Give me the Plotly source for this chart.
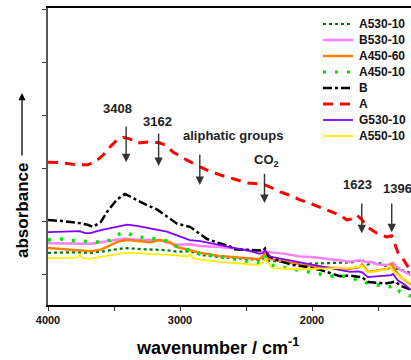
import plotly.graph_objects as go

# ---------------- data ----------------
wn_A530 = [4000, 3800, 3680, 3600, 3500, 3417, 3300, 3100, 3023, 2924, 2848, 2700, 2470, 2394, 2356, 2330, 2200, 2091, 1940, 1790, 1700, 1640, 1621, 1580, 1500, 1450, 1400, 1330, 1250]
A530_10 = [0.40, 0.41, 0.40, 0.42, 0.46, 0.49, 0.47, 0.45, 0.42, 0.43, 0.36, 0.32, 0.28, 0.26, 0.30, 0.25, 0.22, 0.19, 0.20, 0.22, 0.22, 0.25, 0.27, 0.18, 0.22, 0.16, 0.12, 0.08, 0.02]

wn_B530 = [4000, 3760, 3680, 3600, 3500, 3417, 3300, 3160, 3100, 3023, 2925, 2848, 2700, 2470, 2394, 2200, 2091, 2000, 1860, 1712, 1650, 1600, 1545, 1500, 1420, 1386, 1333, 1250]
B530_10 = [0.58, 0.58, 0.57, 0.60, 0.64, 0.67, 0.64, 0.64, 0.60, 0.55, 0.56, 0.53, 0.51, 0.45, 0.44, 0.38, 0.33, 0.32, 0.28, 0.23, 0.26, 0.23, 0.22, 0.18, 0.17, 0.21, 0.08, -0.02]

wn_A450_60 = [4000, 3800, 3680, 3600, 3550, 3460, 3400, 3300, 3227, 3150, 3076, 3023, 2924, 2848, 2700, 2470, 2400, 2371, 2356, 2330, 2280, 2091, 2000, 1860, 1712, 1640, 1621, 1576, 1545, 1480, 1420, 1396, 1370, 1330, 1290, 1250]
A450_60 = [0.49, 0.46, 0.43, 0.46, 0.52, 0.62, 0.64, 0.62, 0.60, 0.64, 0.60, 0.51, 0.45, 0.40, 0.34, 0.30, 0.28, 0.34, 0.42, 0.29, 0.27, 0.18, 0.14, 0.12, 0.10, 0.13, 0.18, 0.04, 0.05, 0.08, 0.10, 0.20, 0.06, -0.05, -0.12, -0.20]

wn_A450_10 = [4000, 3900, 3780, 3680, 3600, 3530, 3477, 3417, 3326, 3240, 3167, 3100, 3061, 2977, 2924, 2850, 2735, 2545, 2409, 2371, 2356, 2318, 2200, 2144, 2030, 1939, 1864, 1790, 1712, 1620, 1576, 1500, 1409, 1371, 1333, 1250]
A450_10 = [0.64, 0.66, 0.62, 0.60, 0.60, 0.64, 0.74, 0.79, 0.70, 0.68, 0.66, 0.62, 0.55, 0.49, 0.45, 0.38, 0.34, 0.26, 0.21, 0.24, 0.34, 0.17, 0.12, 0.08, 0.04, 0.00, -0.05, -0.02, -0.08, -0.12, -0.18, -0.20, -0.24, -0.22, -0.34, -0.42]

wn_B = [4000, 3894, 3760, 3700, 3660, 3600, 3553, 3480, 3417, 3350, 3250, 3175, 3098, 3023, 2925, 2848, 2795, 2700, 2620, 2598, 2470, 2394, 2371, 2356, 2330, 2242, 2144, 2030, 1940, 1864, 1788, 1712, 1674, 1620, 1576, 1523, 1450, 1400, 1370, 1330, 1295, 1250]
B = [1.02, 1.00, 0.96, 0.93, 0.89, 0.98, 1.17, 1.40, 1.51, 1.42, 1.30, 1.22, 1.08, 0.95, 0.89, 0.76, 0.66, 0.58, 0.52, 0.47, 0.45, 0.43, 0.44, 0.48, 0.34, 0.24, 0.17, 0.13, 0.08, 0.02, -0.04, -0.03, -0.04, -0.06, -0.15, -0.16, -0.18, -0.16, -0.14, -0.22, -0.26, -0.30]

wn_A = [4000, 3900, 3780, 3700, 3640, 3580, 3530, 3480, 3432, 3380, 3326, 3242, 3160, 3100, 3053, 2990, 2947, 2848, 2795, 2697, 2600, 2492, 2400, 2356, 2300, 2242, 2160, 2091, 2010, 1939, 1860, 1788, 1735, 1700, 1659, 1620, 1583, 1540, 1508, 1460, 1432, 1396, 1348, 1300, 1280, 1250]
A = [2.11, 2.10, 2.06, 2.06, 2.12, 2.25, 2.40, 2.52, 2.58, 2.55, 2.47, 2.49, 2.48, 2.42, 2.30, 2.22, 2.15, 2.02, 1.96, 1.87, 1.80, 1.72, 1.70, 1.68, 1.62, 1.55, 1.48, 1.40, 1.33, 1.26, 1.18, 1.11, 1.02, 1.04, 1.11, 1.02, 0.89, 0.82, 0.77, 0.72, 0.70, 0.72, 0.40, 0.25, 0.16, 0.06]

wn_G530 = [4000, 3850, 3760, 3720, 3680, 3600, 3530, 3455, 3400, 3326, 3205, 3100, 3023, 2925, 2848, 2700, 2600, 2470, 2394, 2371, 2356, 2318, 2240, 2091, 2000, 1860, 1788, 1712, 1650, 1621, 1576, 1520, 1450, 1400, 1386, 1350, 1300, 1250]
G530_10 = [0.79, 0.80, 0.81, 0.77, 0.77, 0.83, 0.87, 0.91, 0.93, 0.91, 0.85, 0.80, 0.73, 0.64, 0.62, 0.55, 0.49, 0.43, 0.38, 0.40, 0.45, 0.33, 0.29, 0.22, 0.18, 0.12, 0.08, 0.04, 0.05, 0.03, -0.06, -0.05, -0.04, -0.02, 0.00, -0.12, -0.20, -0.30]

wn_A550 = [4000, 3780, 3760, 3740, 3680, 3600, 3500, 3417, 3300, 3100, 3023, 2940, 2924, 2900, 2848, 2700, 2470, 2409, 2371, 2356, 2303, 2200, 2091, 1940, 1790, 1680, 1640, 1621, 1576, 1520, 1450, 1409, 1380, 1330, 1250]
A550_10 = [0.30, 0.31, 0.36, 0.30, 0.29, 0.32, 0.37, 0.40, 0.39, 0.37, 0.35, 0.33, 0.38, 0.30, 0.27, 0.23, 0.18, 0.17, 0.22, 0.30, 0.11, 0.10, 0.09, 0.10, 0.11, 0.12, 0.14, 0.16, 0.03, 0.05, 0.08, 0.15, 0.04, -0.05, -0.18]

x_tickvals = [4000, 3500, 3000, 2500, 2000, 1500]
x_ticktext = ["4000", "", "3000", "", "2000", ""]
y_tickvals = [0, 1, 2, 3, 4, 5]

# peak labels: text, wavenumber of arrow, label (x, y), arrow tail y, arrow head y
peak_text = ["3408", "3162", "aliphatic groups", "CO<sub>2</sub>", "1623", "1396"]
peak_wn = [3408, 3162, 2850, 2360, 1623, 1396]
label_x = [3470, 3174, 2598, 2341, 1652, 1356]
label_y = [3.13, 2.87, 2.62, 2.15, 1.68, 1.62]
arrow_tail = [2.81, 2.68, 2.28, 1.92, 1.36, 1.36]
arrow_head = [2.11, 2.04, 1.68, 1.34, 0.77, 0.79]

# ---------------- figure ----------------
FONT = "Liberation Sans, Arial, sans-serif"
W, H, L, R, T, Bm = 411, 360, 48, 0, 8, 55
pw, ph = W - L - R, H - T - Bm


def px(xp):
    return (xp - L) / pw


def py(yp):
    return (H - Bm - yp) / ph


fig = go.Figure()

series = [
    ("A530-10", wn_A530, A530_10, dict(color="#007a00", width=2.2, dash="dot")),
    ("B530-10", wn_B530, B530_10, dict(color="#ff80ff", width=2.5)),
    ("A450-60", wn_A450_60, A450_60, dict(color="#ff8000", width=2.5)),
    ("A450-10", wn_A450_10, A450_10, dict(color="#00e600", width=3.5, dash="3px,9px")),
    ("B", wn_B, B, dict(color="#000000", width=2.5, dash="dashdot")),
    ("A", wn_A, A, dict(color="#ff0000", width=3, dash="10px,7px")),
    ("G530-10", wn_G530, G530_10, dict(color="#8000ff", width=1.8)),
    ("A550-10", wn_A550, A550_10, dict(color="#ffee00", width=1.8)),
]
for name, xs, ys, line in series:
    fig.add_trace(go.Scatter(x=xs, y=ys, mode="lines", name=name, line=line, showlegend=False))

annotations = []
shapes = []
for t, w, lx, ly, at, ah in zip(peak_text, peak_wn, label_x, label_y, arrow_tail, arrow_head):
    annotations.append(dict(x=lx, y=ly, xref="x", yref="y", text=t, showarrow=False,
                            font=dict(family=FONT, size=13, color="#222", weight="bold")))
    annotations.append(dict(x=w, y=ah, ax=w, ay=at, xref="x", yref="y", axref="x", ayref="y",
                            text="", showarrow=True, arrowhead=2, arrowsize=1.2,
                            arrowwidth=1.4, arrowcolor="#333", standoff=0, startstandoff=0))

# legend drawn compactly (16 px rows, as in the reference)
for i, (name, xs, ys, line) in enumerate(series):
    yrow = 24 + 16 * i
    ln = dict(line)
    ln["width"] = min(ln["width"], 3)
    shapes.append(dict(type="line", xref="paper", yref="paper",
                       x0=px(323), x1=px(353), y0=py(yrow), y1=py(yrow), line=ln))
    annotations.append(dict(x=px(357), y=py(yrow), xref="paper", yref="paper",
                            xanchor="left", yanchor="middle", text=name, showarrow=False,
                            font=dict(family=FONT, size=12, color="#111", weight="bold")))

annotations.append(dict(x=px(217), y=py(346), xref="paper", yref="paper",
                        xanchor="center", yanchor="middle",
                        text="wavenumber / cm<sup>-1</sup>", showarrow=False,
                        font=dict(family=FONT, size=18, color="#000", weight="bold")))
annotations.append(dict(x=px(22), y=py(211), xref="paper", yref="paper",
                        xanchor="center", yanchor="middle", text="absorbance",
                        textangle=-90, showarrow=False,
                        font=dict(family=FONT, size=17, color="#000", weight="bold")))
annotations.append(dict(x=px(22), y=py(93), xref="paper", yref="paper",
                        axref="pixel", ayref="pixel", ax=0, ay=64, text="", showarrow=True,
                        arrowhead=2, arrowsize=1.1, arrowwidth=1.3, arrowcolor="#000",
                        standoff=0, startstandoff=0))

fig.update_layout(
    width=W, height=H,
    margin=dict(l=L, r=R, t=T, b=Bm),
    paper_bgcolor="white", plot_bgcolor="white",
    showlegend=False,
    annotations=annotations,
    shapes=shapes,
    xaxis=dict(range=[4000, 1250], showgrid=False, zeroline=False,
               showline=True, linecolor="#000", linewidth=1.5, mirror=True,
               ticks="outside", ticklen=4, tickwidth=1.2, tickcolor="#333",
               tickvals=x_tickvals, ticktext=x_ticktext,
               tickfont=dict(family=FONT, size=11, color="#111", weight="bold")),
    yaxis=dict(range=[-0.585, 5.02], showgrid=False, zeroline=False,
               showline=True, linecolor="#555", linewidth=2, mirror=False,
               ticks="outside", ticklen=4, tickwidth=1.2, tickcolor="#333",
               tickvals=y_tickvals, showticklabels=False),
)

fig.write_html("out.html")
